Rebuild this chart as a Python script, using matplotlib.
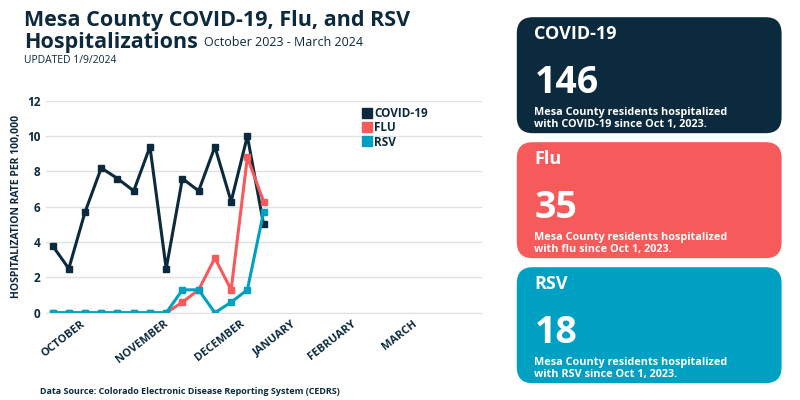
import matplotlib.pyplot as plt
from matplotlib.patches import FancyBboxPatch
from matplotlib.lines import Line2D

plt.rcParams['font.family'] = ['Open Sans', 'DejaVu Sans']

# weekly values, starting Oct 1 2023 (day 0)
days = [0, 7, 14, 21, 28, 35, 42, 49, 56, 63, 70, 77, 84, 91]
covid = [3.8, 2.5, 5.7, 8.2, 7.6, 6.9, 9.4, 2.5, 7.6, 6.9, 9.4, 6.3, 10.0, 5.0]
flu = [0, 0, 0, 0, 0, 0, 0, 0, 0.6, 1.3, 3.1, 1.3, 8.8, 6.3]
rsv = [0, 0, 0, 0, 0, 0, 0, 0, 1.3, 1.3, 0, 0.6, 1.3, 5.7]
month_ticks = [12, 48, 81, 103, 129, 155]
month_labels = ['OCTOBER', 'NOVEMBER', 'DECEMBER', 'JANUARY', 'FEBRUARY', 'MARCH']

cards = [('COVID-19', '146', 'Mesa County residents hospitalized\nwith COVID-19 since Oct 1, 2023.'),
         ('Flu', '35', 'Mesa County residents hospitalized\nwith flu since Oct 1, 2023.'),
         ('RSV', '18', 'Mesa County residents hospitalized\nwith RSV since Oct 1, 2023.')]

NAVY = '#0c2a3d'
RED = '#f65a5a'
TEAL = '#00a0c2'

fig = plt.figure(figsize=(8, 4), dpi=100)
ax = fig.add_axes([0.057, 0.218, 0.545, 0.53])

ax.plot(days, covid, color=NAVY, lw=2.2, marker='s', ms=4)
ax.plot(days, flu, color=RED, lw=2.2, marker='s', ms=4)
ax.plot(days, rsv, color=TEAL, lw=2.2, marker='s', ms=4)

ax.set_xlim(-3, 185)
ax.set_ylim(0, 12)
ax.set_yticks(range(0, 13, 2))
ax.set_xticks(month_ticks)
ax.set_xticklabels(month_labels, rotation=38, ha='right', rotation_mode='anchor',
                   fontsize=8, fontweight='bold', color=NAVY)
ax.tick_params(axis='y', labelsize=8.5, labelcolor=NAVY, length=0)
for t in ax.get_yticklabels():
    t.set_fontweight('bold')
ax.tick_params(axis='x', length=0, pad=4)
ax.grid(axis='y', color='#dde1e4', lw=1)
ax.set_axisbelow(True)
for s in ['top', 'right', 'left']:
    ax.spines[s].set_visible(False)
ax.spines['bottom'].set_color('#dde1e4')
ax.set_ylabel('HOSPITALIZATION RATE PER 100,000', fontsize=7.5, fontweight='bold', color=NAVY)

handles = [Line2D([], [], color=c, marker='s', ls='', ms=7) for c in (NAVY, RED, TEAL)]
ax.legend(handles, ['COVID-19', 'FLU', 'RSV'], loc='upper left', bbox_to_anchor=(0.7, 1.02),
          frameon=False, handletextpad=0.1, labelspacing=0.1, prop={'weight': 'bold', 'size': 8.5},
          labelcolor=NAVY, handlelength=1)

fig.text(0.03, 0.935, 'Mesa County COVID-19, Flu, and RSV', fontsize=15.5, fontweight='bold', color=NAVY)
fig.text(0.03, 0.88, 'Hospitalizations', fontsize=15.5, fontweight='bold', color=NAVY)
fig.text(0.255, 0.885, 'October 2023 - March 2024', fontsize=9, color=NAVY)
fig.text(0.03, 0.842, 'UPDATED 1/9/2024', fontsize=7.5, color=NAVY)
fig.text(0.05, 0.015, 'Data Source: Colorado Electronic Disease Reporting System (CEDRS)',
         fontsize=6.5, fontweight='bold', color=NAVY)

for i, ((name, num, desc), col) in enumerate(zip(cards, (NAVY, RED, TEAL))):
    top = 0.957 - i * 0.3125
    box = FancyBboxPatch((0.646, top - 0.29), 0.331, 0.29, boxstyle='round,pad=0,rounding_size=0.02',
                         transform=fig.transFigure, facecolor=col, edgecolor='none',
                         mutation_aspect=2)
    fig.patches.append(box)
    fig.text(0.668, top - 0.055, name, fontsize=13, fontweight='bold', color='white')
    fig.text(0.668, top - 0.19, num, fontsize=27, fontweight='bold', color='white')
    fig.text(0.668, top - 0.275, desc, fontsize=7.8, fontweight='bold', color='white', linespacing=1.1)

fig.savefig('out.png')
